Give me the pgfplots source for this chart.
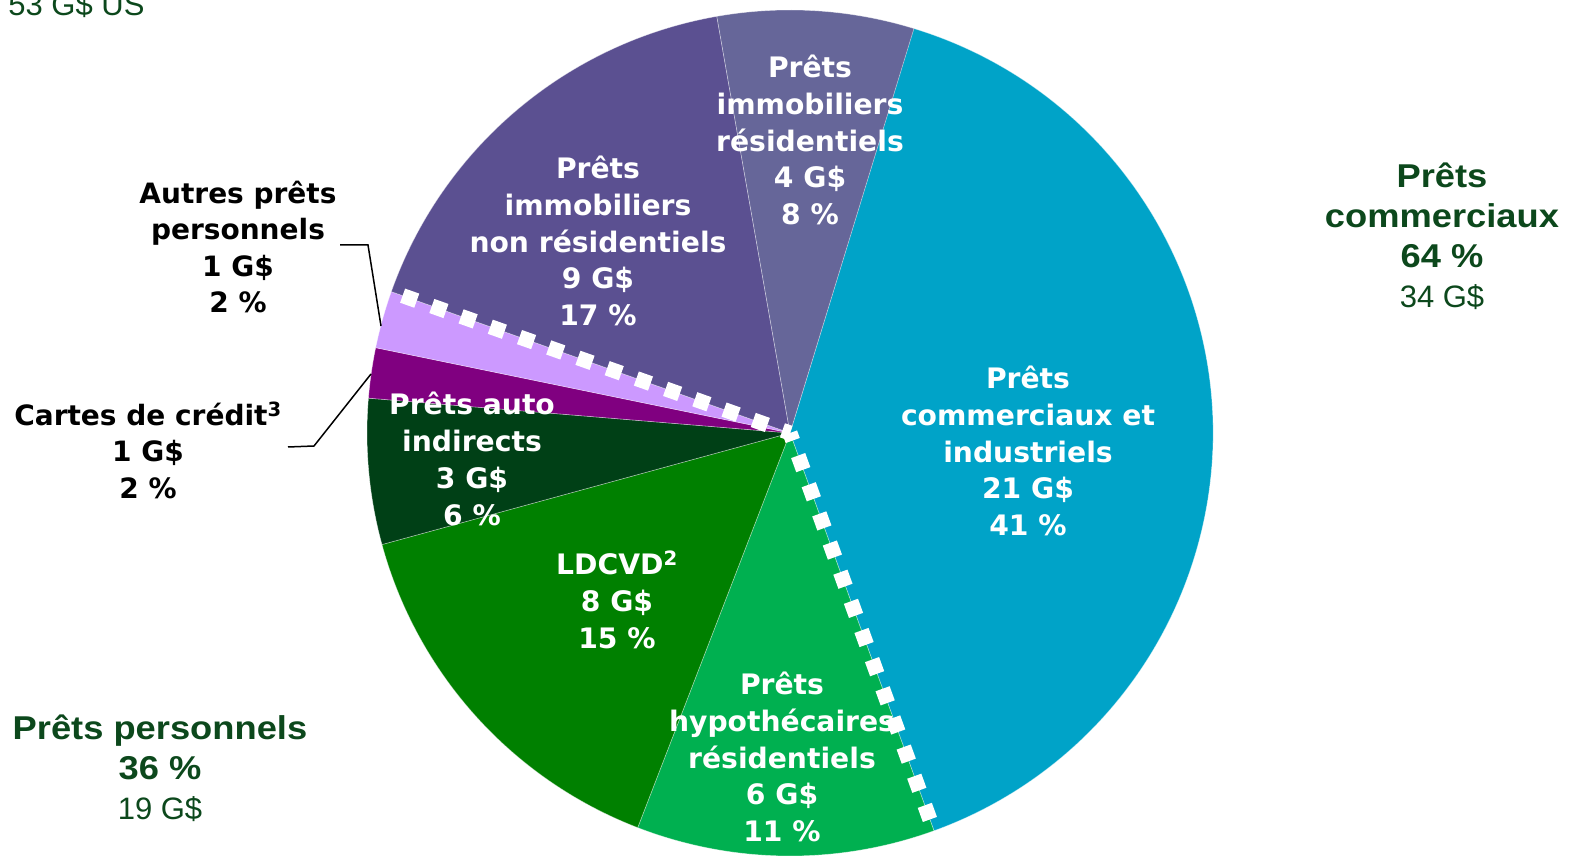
\documentclass[border=0pt]{standalone}
\usepackage{pgfplots}
\pgfplotsset{compat=1.18}
\usepackage{pgfplotstable}
\usepackage{fontspec}
\setmainfont{DejaVu Sans}
\newfontfamily\lsbold{Liberation Sans}[FakeStretch=1.1]
\newfontfamily\lsreg{Liberation Sans}
\definecolor{ciC}{RGB}{0,163,200}
\definecolor{hypC}{RGB}{0,176,80}
\definecolor{ldcC}{RGB}{0,128,0}
\definecolor{autoC}{RGB}{0,64,22}
\definecolor{cardC}{RGB}{128,0,128}
\definecolor{othC}{RGB}{204,153,255}
\definecolor{nresC}{RGB}{91,80,145}
\definecolor{resC}{RGB}{102,102,153}
\definecolor{dg}{RGB}{12,72,28}

% slice shares in percent, clockwise from the top-right boundary
\pgfplotstableread{
val col
39.75 ciC
11.39 hypC
14.89 ldcC
5.56 autoC
1.92 cardC
2.19 othC
16.81 nresC
7.50 resC
}\piedata

\begin{document}
\begin{tikzpicture}[
  wl/.style={font=\fontsize{28.2}{36.8}\selectfont\bfseries, text=white, align=center},
  bl/.style={font=\fontsize{28}{36.5}\selectfont\bfseries, text=black, align=center},
]
\useasboundingbox (0,0) rectangle (1570pt,856pt);
\clip (0,0) rectangle (1570pt,856pt);
\begin{axis}[
  at={(0,0)}, anchor=south west,
  scale only axis, width=1570pt, height=856pt,
  xmin=0, xmax=1570, ymin=0, ymax=856,
  hide axis, clip=false,
]
\pgfplotstablegetrowsof{\piedata}
\pgfmathtruncatemacro\N{\pgfplotsretval-1}
\xdef\cum{73.0}
\foreach \i in {0,...,\N}{
  \pgfplotstablegetelem{\i}{val}\of\piedata
  \let\v\pgfplotsretval
  \pgfplotstablegetelem{\i}{col}\of\piedata
  \let\c\pgfplotsretval
  \pgfmathsetmacro\a{\cum}
  \pgfmathsetmacro\b{\cum-3.6*\v}
  \edef\temp{\noexpand\fill[\c, draw=white, draw opacity=0.45, line width=0.6pt] (axis cs:790,423) -- ++(\a:423pt) arc[start angle=\a, end angle=\b, radius=423pt] -- cycle;}
  \temp
  \ifnum\i=0 \xdef\angA{\b}\fi
  \ifnum\i=5 \xdef\angB{\b}\fi
  \xdef\cum{\b}
}
\edef\temp{\noexpand\draw[white, line width=15pt, dash pattern=on 15pt off 16pt, dash phase=7pt] (axis cs:790,423) -- ++(\angA:423pt);}
\temp
\edef\temp{\noexpand\draw[white, line width=15pt, dash pattern=on 15pt off 16pt, dash phase=7pt] (axis cs:790,423) -- ++(\angB:423pt);}
\temp

\node[wl] at (axis cs:1028,405) {Prêts\\commerciaux et\\industriels\\21 G\$\\41 \%};
\node[wl] at (axis cs:810,716) {Prêts\\immobiliers\\résidentiels\\4 G\$\\8 \%};
\node[wl] at (axis cs:598,615) {Prêts\\immobiliers\\non résidentiels\\9 G\$\\17 \%};
\node[wl] at (axis cs:472,397) {Prêts auto\\indirects\\3 G\$\\6 \%};
\node[wl] at (axis cs:617,256) {LDCVD\textsuperscript{2}\\8 G\$\\15 \%};
\node[wl] at (axis cs:782,99) {Prêts\\hypothécaires\\résidentiels\\6 G\$\\11 \%};
\node[bl] at (axis cs:238,609) {Autres prêts\\personnels\\1 G\$\\2 \%};
\node[bl] at (axis cs:148,406) {Cartes de crédit\textsuperscript{3}\\1 G\$\\2 \%};

\draw[black, line width=1.5pt] (axis cs:340,611) -- (axis cs:368,611) -- (axis cs:381,530);
\draw[black, line width=1.5pt] (axis cs:288,409) -- (axis cs:314,410) -- (axis cs:371,482);

\node[text=dg, align=center, font=\fontsize{33}{40}\selectfont] at (axis cs:1442,620)
  {{\lsbold\bfseries Prêts}\\{\lsbold\bfseries commerciaux}\\{\lsbold\bfseries 64 \%}\\{\lsreg\fontsize{31}{40}\selectfont 34 G\$}};
\node[text=dg, align=center, font=\fontsize{33}{40}\selectfont] at (axis cs:160,88)
  {{\lsbold\bfseries Prêts personnels}\\{\lsbold\bfseries 36 \%}\\{\lsreg\fontsize{31}{40}\selectfont 19 G\$}};
\node[text=dg, anchor=base east, font=\lsreg\fontsize{31}{36}\selectfont] at (axis cs:148,840) {53 G\$ US};
\end{axis}
\end{tikzpicture}
\end{document}
